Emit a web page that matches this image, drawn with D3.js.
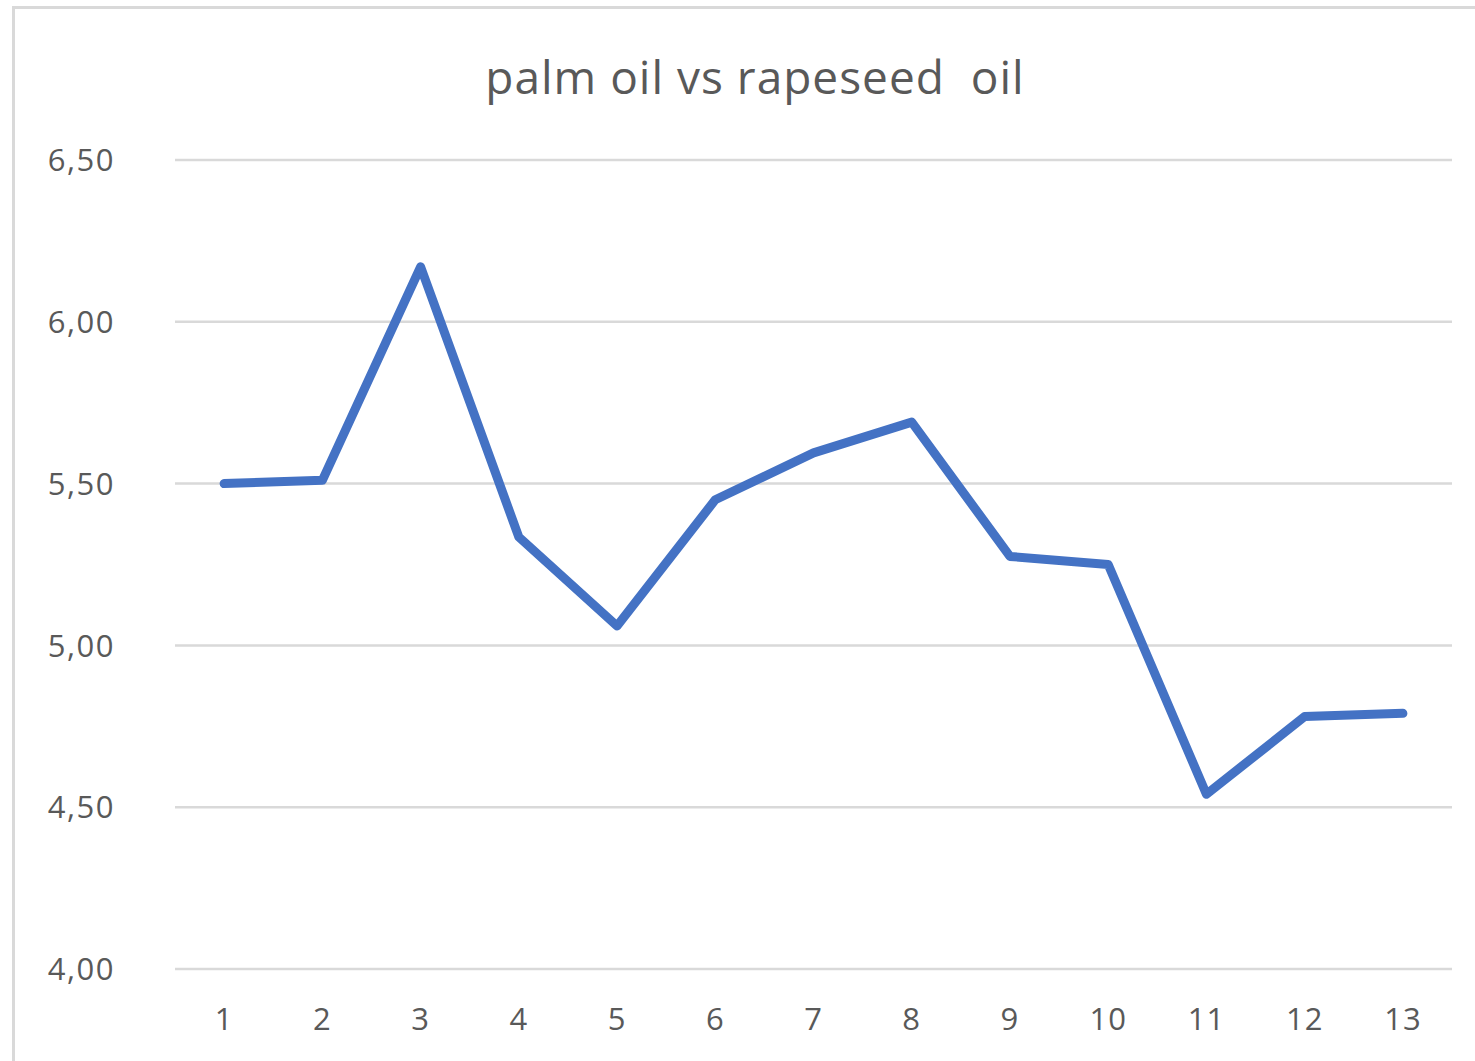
<!DOCTYPE html>
<html lang="en">
<head>
  <meta charset="UTF-8">
  <title>palm oil vs rapeseed oil</title>
  <script src="https://cdn.jsdelivr.net/npm/d3@7.8.5/dist/d3.min.js"></script>
  <style>
    html, body { margin: 0; padding: 0; background: #fff; }
    svg { display: block; font-family: 'Open Sans', sans-serif; }
  </style>
</head>
<body>
  <svg id="chart"></svg>
  <script>
    // Chart data
    const categories = ["1", "2", "3", "4", "5", "6", "7", "8", "9", "10", "11", "12", "13"];
    const values = [5.50, 5.51, 6.17, 5.335, 5.06, 5.45, 5.595, 5.69, 5.275, 5.25, 4.54, 4.78, 4.79];
    const yTicks = [4.0, 4.5, 5.0, 5.5, 6.0, 6.5];
    const title = "palm oil vs rapeseed  oil";

    const width = 1475, height = 1061;
    const svg = d3.select("#chart").attr("width", width).attr("height", height);

    // frame (only top and left edges are visible in the crop)
    svg.append("path")
      .attr("d", `M13.5,${height} V7.5 H${width}`)
      .attr("fill", "none")
      .attr("stroke", "#d9d9d9")
      .attr("stroke-width", 3);

    const x = d3.scaleBand().domain(categories).range([175, 1452]);
    const y = d3.scaleLinear().domain([4, 6.5]).range([969, 160]);

    // gridlines
    svg.append("g")
      .selectAll("line")
      .data(yTicks)
      .enter()
      .append("line")
      .attr("x1", 175)
      .attr("x2", 1452)
      .attr("y1", d => y(d))
      .attr("y2", d => y(d))
      .attr("stroke", "#d9d9d9")
      .attr("stroke-width", 2.5);

    // y tick labels
    svg.append("g")
      .selectAll("text")
      .data(yTicks)
      .enter()
      .append("text")
      .attr("x", 115)
      .attr("y", d => y(d))
      .attr("dy", "0.36em")
      .attr("text-anchor", "end")
      .attr("font-size", 31)
      .attr("letter-spacing", 1.5)
      .attr("fill", "#595959")
      .text(d => d.toFixed(2).replace(".", ","));

    // x tick labels
    svg.append("g")
      .selectAll("text")
      .data(categories)
      .enter()
      .append("text")
      .attr("x", d => x(d) + x.bandwidth() / 2)
      .attr("y", 1019)
      .attr("dy", "0.36em")
      .attr("text-anchor", "middle")
      .attr("font-size", 31)
      .attr("letter-spacing", 1)
      .attr("fill", "#595959")
      .text(d => d);

    // line
    const line = d3.line()
      .x((d, i) => x(categories[i]) + x.bandwidth() / 2)
      .y(d => y(d));

    svg.append("path")
      .datum(values)
      .attr("d", line)
      .attr("fill", "none")
      .attr("stroke", "#4472c4")
      .attr("stroke-width", 9)
      .attr("stroke-linejoin", "round")
      .attr("stroke-linecap", "round");

    // title
    svg.append("text")
      .attr("x", 755)
      .attr("y", 94)
      .attr("text-anchor", "middle")
      .attr("font-size", 46)
      .attr("letter-spacing", 1)
      .attr("fill", "#595959")
      .attr("xml:space", "preserve")
      .style("white-space", "pre")
      .text(title);
  </script>
</body>
</html>
